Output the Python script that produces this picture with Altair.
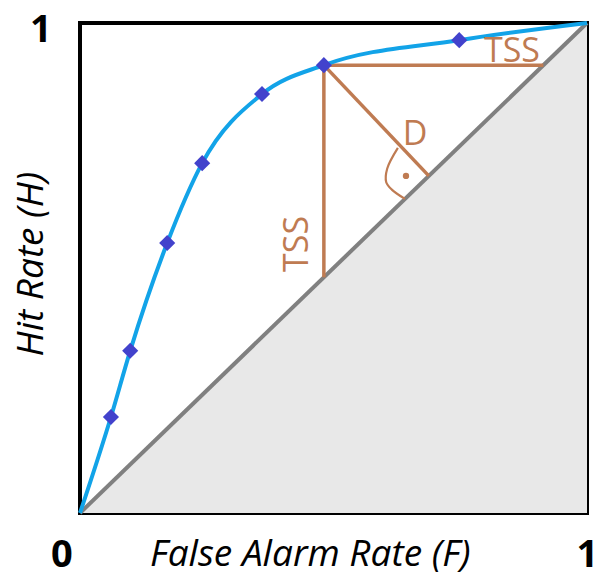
import altair as alt
import pandas as pd

# ROC curve (False Alarm Rate F vs Hit Rate H)
curve_far = [0.0, 0.061, 0.099, 0.172, 0.241, 0.359, 0.481, 0.748, 1.0]
curve_hit = [0.0, 0.196, 0.331, 0.551, 0.714, 0.855, 0.914, 0.965, 1.0]
marker_far = [0.061, 0.099, 0.172, 0.241, 0.359, 0.481, 0.748]
marker_hit = [0.196, 0.331, 0.551, 0.714, 0.855, 0.914, 0.965]

# no-skill diagonal
diag_far = [0.0, 1.0]
diag_hit = [0.0, 1.0]

# TSS / D construction lines from the chosen point
seg_id = ["tss_h", "tss_h", "tss_v", "tss_v", "d", "d"]
seg_far = [0.481, 0.914, 0.481, 0.481, 0.481, 0.688]
seg_hit = [0.914, 0.914, 0.914, 0.481, 0.914, 0.688]

# right-angle symbol
ra_order = [0, 1, 2, 3, 4]
ra_far = [0.627, 0.606, 0.604, 0.615, 0.641]
ra_hit = [0.745, 0.703, 0.675, 0.660, 0.641]
dot_far = [0.643]
dot_hit = [0.688]

# annotation texts (anchored on their baseline)
ann_text = ["TSS", "TSS", "D"]
ann_far = [0.852, 0.450, 0.661]
ann_hit = [0.920, 0.549, 0.751]
ann_angle = [0, 270, 0]

# corner numbers (baseline anchored)
num_text = ["1", "0"]
num_far = [-0.077, -0.036]
num_hit = [0.961, -0.110]
num_right_text = ["1"]
num_right_far = [1.022]
num_right_hit = [-0.110]

BLUE = "#12a3e8"
MARK = "#4242cc"
BROWN = "#bf7b52"
GRAY = "#808080"
FILL = "#e8e8e8"
FONT = "Open Sans"

xs = alt.Scale(domain=[0, 1], nice=False, zero=False)
ys = alt.Scale(domain=[0, 1], nice=False, zero=False)
X = lambda f: alt.X(f, type="quantitative", scale=xs, axis=None)
Y = lambda f: alt.Y(f, type="quantitative", scale=ys, axis=None)

diag_df = pd.DataFrame({"F": diag_far, "H": diag_hit})
area = alt.Chart(diag_df).mark_area(color=FILL).encode(x=X("F"), y=Y("H"), y2=alt.datum(0))
diag = alt.Chart(diag_df).mark_line(color=GRAY, strokeWidth=4).encode(x=X("F"), y=Y("H"))

seg_df = pd.DataFrame({"id": seg_id, "F": seg_far, "H": seg_hit})
segs = alt.Chart(seg_df).mark_line(color=BROWN, strokeWidth=3.5).encode(
    x=X("F"), y=Y("H"), detail="id:N")

ra_df = pd.DataFrame({"o": ra_order, "F": ra_far, "H": ra_hit})
ra = alt.Chart(ra_df).mark_line(color=BROWN, strokeWidth=2.2, interpolate="catmull-rom").encode(
    x=X("F"), y=Y("H"), order="o:Q")
dot = alt.Chart(pd.DataFrame({"F": dot_far, "H": dot_hit})).mark_point(
    shape="circle", filled=True, color=BROWN, size=40, opacity=1).encode(x=X("F"), y=Y("H"))

curve_df = pd.DataFrame({"F": curve_far, "H": curve_hit})
curve = alt.Chart(curve_df).mark_line(color=BLUE, strokeWidth=4, interpolate="monotone").encode(
    x=X("F"), y=Y("H"))
marks = alt.Chart(pd.DataFrame({"F": marker_far, "H": marker_hit})).mark_point(
    shape="diamond", filled=True, color=MARK, size=260, opacity=1).encode(x=X("F"), y=Y("H"))

ann_df = pd.DataFrame({"t": ann_text, "F": ann_far, "H": ann_hit, "a": ann_angle})
ann = alt.Chart(ann_df).mark_text(font=FONT, fontSize=34, color=BROWN, baseline="alphabetic",
                                  align="center").encode(
    x=X("F"), y=Y("H"), text="t:N", angle=alt.Angle("a:Q", scale=None))

nums = alt.Chart(pd.DataFrame({"t": num_text, "F": num_far, "H": num_hit})).mark_text(
    font=FONT, fontSize=38, fontWeight="bold", color="black",
    baseline="alphabetic", align="center").encode(x=X("F"), y=Y("H"), text="t:N")
nums_r = alt.Chart(pd.DataFrame({"t": num_right_text, "F": num_right_far, "H": num_right_hit})).mark_text(
    font=FONT, fontSize=38, fontWeight="bold", color="black",
    baseline="alphabetic", align="right").encode(x=X("F"), y=Y("H"), text="t:N")

xt = alt.Chart(pd.DataFrame({"t": ["False Alarm Rate (F)"], "F": [0.454], "H": [-0.108]})).mark_text(
    font=FONT, fontSize=37, fontStyle="italic", color="black", baseline="alphabetic", align="center"
).encode(x=X("F"), y=Y("H"), text="t:N")
yt = alt.Chart(pd.DataFrame({"t": ["Hit Rate (H)"], "F": [-0.095], "H": [0.508]})).mark_text(
    font=FONT, fontSize=37, fontStyle="italic", color="black", baseline="middle", align="center",
    angle=270
).encode(x=X("F"), y=Y("H"), text="t:N")

chart = alt.layer(area, diag, segs, ra, dot, curve, marks, ann, nums, nums_r, xt, yt).properties(
    width=507, height=490,
    autosize=alt.AutoSizeParams(type="none"),
    padding={"left": 80, "top": 23, "right": 11, "bottom": 61},
).configure_view(stroke="black", strokeWidth=4)

chart.save("out.html", embed_options={"renderer": "svg", "actions": False})
